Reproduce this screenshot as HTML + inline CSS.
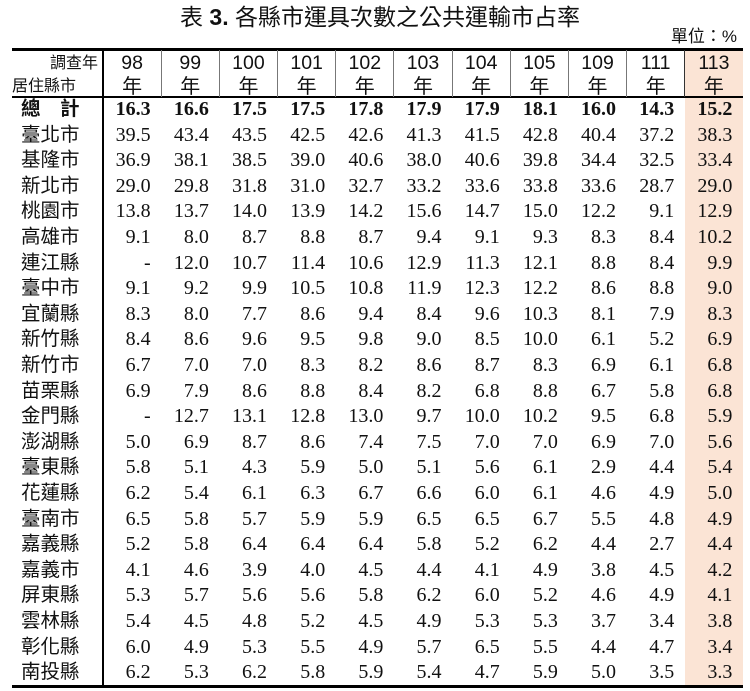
<!DOCTYPE html>
<html>
<head>
<meta charset="utf-8">
<style>
*{margin:0;padding:0;box-sizing:border-box}
html,body{width:750px;height:691px;background:#fff;overflow:hidden}
body{position:relative;color:#111;font-family:"Liberation Serif","Noto Sans CJK TC",serif}
.title{position:absolute;left:0;top:3px;width:760px;text-align:center;font-family:"Liberation Sans","Noto Sans CJK TC",sans-serif;font-size:23px;line-height:28px;white-space:nowrap}
.title b{font-weight:bold}
.unit{position:absolute;right:13px;top:25px;font-family:"Liberation Sans","Noto Sans CJK TC",sans-serif;font-size:17px;line-height:24px;white-space:nowrap}
.peach{position:absolute;left:685px;top:49px;width:58px;height:637px;background:#FBE4D5}
.hl{position:absolute;left:12px;width:731px;background:#000}
.vl{position:absolute;width:1px;background:#777;top:50px;height:47px}
.vmain{position:absolute;left:102px;width:2px;top:49px;height:637px;background:#000}
.hy{position:absolute;top:50px;height:26px;line-height:26px;text-align:center;font-family:"Liberation Sans",sans-serif;font-size:19.5px;width:58.18px}
.hn{position:absolute;top:76px;height:22px;line-height:22px;text-align:center;font-family:"Liberation Sans","Noto Sans CJK TC",sans-serif;font-size:20px;width:58.18px}
.h0a{position:absolute;left:12px;width:86px;top:51px;height:26px;line-height:26px;text-align:right;font-family:"Liberation Sans","Noto Sans CJK TC",sans-serif;font-size:16px}
.h0b{position:absolute;left:12px;top:76px;height:22px;line-height:22px;font-family:"Liberation Sans","Noto Sans CJK TC",sans-serif;font-size:16px}
.r{position:absolute;left:12px;width:731px;height:25.6px;line-height:25.6px;display:flex;white-space:nowrap}
.r .c0{width:91px;padding-left:9px;font-family:"Liberation Sans","Noto Sans CJK TC",sans-serif;font-size:19.5px}
.r .d{width:58.18px;text-align:right;padding-right:10.5px;font-family:"Liberation Serif",serif;font-size:20px}
.r.t .c0,.r.t .d{font-weight:bold}
</style>
</head>
<body>
<div class="title">表 <b>3.</b> 各縣市運具次數之公共運輸市占率</div>
<div class="unit">單位：%</div>
<div class="peach"></div>

<div class="hl" style="top:48px;height:2.5px"></div>
<div class="hl" style="top:96px;height:2px"></div>
<div class="hl" style="top:685px;height:2.5px"></div>
<div class="vmain"></div>

<div class="vl" style="left:161px"></div>
<div class="vl" style="left:219px"></div>
<div class="vl" style="left:277px"></div>
<div class="vl" style="left:335px"></div>
<div class="vl" style="left:393px"></div>
<div class="vl" style="left:452px"></div>
<div class="vl" style="left:510px"></div>
<div class="vl" style="left:568px"></div>
<div class="vl" style="left:626px"></div>
<div class="vl" style="left:684px;background:#333"></div>

<div class="h0a">調查年</div>
<div class="h0b">居住縣市</div>

<div class="hy" style="left:103px">98</div>
<div class="hy" style="left:161.18px">99</div>
<div class="hy" style="left:219.36px">100</div>
<div class="hy" style="left:277.54px">101</div>
<div class="hy" style="left:335.72px">102</div>
<div class="hy" style="left:393.9px">103</div>
<div class="hy" style="left:452.08px">104</div>
<div class="hy" style="left:510.26px">105</div>
<div class="hy" style="left:568.44px">109</div>
<div class="hy" style="left:626.62px">111</div>
<div class="hy" style="left:684.8px">113</div>

<div class="hn" style="left:103px">年</div>
<div class="hn" style="left:161.18px">年</div>
<div class="hn" style="left:219.36px">年</div>
<div class="hn" style="left:277.54px">年</div>
<div class="hn" style="left:335.72px">年</div>
<div class="hn" style="left:393.9px">年</div>
<div class="hn" style="left:452.08px">年</div>
<div class="hn" style="left:510.26px">年</div>
<div class="hn" style="left:568.44px">年</div>
<div class="hn" style="left:626.62px">年</div>
<div class="hn" style="left:684.8px">年</div>

<div class="r t" style="top:97px"><span class="c0">總　計</span><span class="d">16.3</span><span class="d">16.6</span><span class="d">17.5</span><span class="d">17.5</span><span class="d">17.8</span><span class="d">17.9</span><span class="d">17.9</span><span class="d">18.1</span><span class="d">16.0</span><span class="d">14.3</span><span class="d">15.2</span></div>
<div class="r" style="top:122.6px"><span class="c0">臺北市</span><span class="d">39.5</span><span class="d">43.4</span><span class="d">43.5</span><span class="d">42.5</span><span class="d">42.6</span><span class="d">41.3</span><span class="d">41.5</span><span class="d">42.8</span><span class="d">40.4</span><span class="d">37.2</span><span class="d">38.3</span></div>
<div class="r" style="top:148.2px"><span class="c0">基隆市</span><span class="d">36.9</span><span class="d">38.1</span><span class="d">38.5</span><span class="d">39.0</span><span class="d">40.6</span><span class="d">38.0</span><span class="d">40.6</span><span class="d">39.8</span><span class="d">34.4</span><span class="d">32.5</span><span class="d">33.4</span></div>
<div class="r" style="top:173.8px"><span class="c0">新北市</span><span class="d">29.0</span><span class="d">29.8</span><span class="d">31.8</span><span class="d">31.0</span><span class="d">32.7</span><span class="d">33.2</span><span class="d">33.6</span><span class="d">33.8</span><span class="d">33.6</span><span class="d">28.7</span><span class="d">29.0</span></div>
<div class="r" style="top:199.4px"><span class="c0">桃園市</span><span class="d">13.8</span><span class="d">13.7</span><span class="d">14.0</span><span class="d">13.9</span><span class="d">14.2</span><span class="d">15.6</span><span class="d">14.7</span><span class="d">15.0</span><span class="d">12.2</span><span class="d">9.1</span><span class="d">12.9</span></div>
<div class="r" style="top:225px"><span class="c0">高雄市</span><span class="d">9.1</span><span class="d">8.0</span><span class="d">8.7</span><span class="d">8.8</span><span class="d">8.7</span><span class="d">9.4</span><span class="d">9.1</span><span class="d">9.3</span><span class="d">8.3</span><span class="d">8.4</span><span class="d">10.2</span></div>
<div class="r" style="top:250.6px"><span class="c0">連江縣</span><span class="d">-</span><span class="d">12.0</span><span class="d">10.7</span><span class="d">11.4</span><span class="d">10.6</span><span class="d">12.9</span><span class="d">11.3</span><span class="d">12.1</span><span class="d">8.8</span><span class="d">8.4</span><span class="d">9.9</span></div>
<div class="r" style="top:276.2px"><span class="c0">臺中市</span><span class="d">9.1</span><span class="d">9.2</span><span class="d">9.9</span><span class="d">10.5</span><span class="d">10.8</span><span class="d">11.9</span><span class="d">12.3</span><span class="d">12.2</span><span class="d">8.6</span><span class="d">8.8</span><span class="d">9.0</span></div>
<div class="r" style="top:301.8px"><span class="c0">宜蘭縣</span><span class="d">8.3</span><span class="d">8.0</span><span class="d">7.7</span><span class="d">8.6</span><span class="d">9.4</span><span class="d">8.4</span><span class="d">9.6</span><span class="d">10.3</span><span class="d">8.1</span><span class="d">7.9</span><span class="d">8.3</span></div>
<div class="r" style="top:327.4px"><span class="c0">新竹縣</span><span class="d">8.4</span><span class="d">8.6</span><span class="d">9.6</span><span class="d">9.5</span><span class="d">9.8</span><span class="d">9.0</span><span class="d">8.5</span><span class="d">10.0</span><span class="d">6.1</span><span class="d">5.2</span><span class="d">6.9</span></div>
<div class="r" style="top:353px"><span class="c0">新竹市</span><span class="d">6.7</span><span class="d">7.0</span><span class="d">7.0</span><span class="d">8.3</span><span class="d">8.2</span><span class="d">8.6</span><span class="d">8.7</span><span class="d">8.3</span><span class="d">6.9</span><span class="d">6.1</span><span class="d">6.8</span></div>
<div class="r" style="top:378.6px"><span class="c0">苗栗縣</span><span class="d">6.9</span><span class="d">7.9</span><span class="d">8.6</span><span class="d">8.8</span><span class="d">8.4</span><span class="d">8.2</span><span class="d">6.8</span><span class="d">8.8</span><span class="d">6.7</span><span class="d">5.8</span><span class="d">6.8</span></div>
<div class="r" style="top:404.2px"><span class="c0">金門縣</span><span class="d">-</span><span class="d">12.7</span><span class="d">13.1</span><span class="d">12.8</span><span class="d">13.0</span><span class="d">9.7</span><span class="d">10.0</span><span class="d">10.2</span><span class="d">9.5</span><span class="d">6.8</span><span class="d">5.9</span></div>
<div class="r" style="top:429.8px"><span class="c0">澎湖縣</span><span class="d">5.0</span><span class="d">6.9</span><span class="d">8.7</span><span class="d">8.6</span><span class="d">7.4</span><span class="d">7.5</span><span class="d">7.0</span><span class="d">7.0</span><span class="d">6.9</span><span class="d">7.0</span><span class="d">5.6</span></div>
<div class="r" style="top:455.4px"><span class="c0">臺東縣</span><span class="d">5.8</span><span class="d">5.1</span><span class="d">4.3</span><span class="d">5.9</span><span class="d">5.0</span><span class="d">5.1</span><span class="d">5.6</span><span class="d">6.1</span><span class="d">2.9</span><span class="d">4.4</span><span class="d">5.4</span></div>
<div class="r" style="top:481px"><span class="c0">花蓮縣</span><span class="d">6.2</span><span class="d">5.4</span><span class="d">6.1</span><span class="d">6.3</span><span class="d">6.7</span><span class="d">6.6</span><span class="d">6.0</span><span class="d">6.1</span><span class="d">4.6</span><span class="d">4.9</span><span class="d">5.0</span></div>
<div class="r" style="top:506.6px"><span class="c0">臺南市</span><span class="d">6.5</span><span class="d">5.8</span><span class="d">5.7</span><span class="d">5.9</span><span class="d">5.9</span><span class="d">6.5</span><span class="d">6.5</span><span class="d">6.7</span><span class="d">5.5</span><span class="d">4.8</span><span class="d">4.9</span></div>
<div class="r" style="top:532.2px"><span class="c0">嘉義縣</span><span class="d">5.2</span><span class="d">5.8</span><span class="d">6.4</span><span class="d">6.4</span><span class="d">6.4</span><span class="d">5.8</span><span class="d">5.2</span><span class="d">6.2</span><span class="d">4.4</span><span class="d">2.7</span><span class="d">4.4</span></div>
<div class="r" style="top:557.8px"><span class="c0">嘉義市</span><span class="d">4.1</span><span class="d">4.6</span><span class="d">3.9</span><span class="d">4.0</span><span class="d">4.5</span><span class="d">4.4</span><span class="d">4.1</span><span class="d">4.9</span><span class="d">3.8</span><span class="d">4.5</span><span class="d">4.2</span></div>
<div class="r" style="top:583.4px"><span class="c0">屏東縣</span><span class="d">5.3</span><span class="d">5.7</span><span class="d">5.6</span><span class="d">5.6</span><span class="d">5.8</span><span class="d">6.2</span><span class="d">6.0</span><span class="d">5.2</span><span class="d">4.6</span><span class="d">4.9</span><span class="d">4.1</span></div>
<div class="r" style="top:609px"><span class="c0">雲林縣</span><span class="d">5.4</span><span class="d">4.5</span><span class="d">4.8</span><span class="d">5.2</span><span class="d">4.5</span><span class="d">4.9</span><span class="d">5.3</span><span class="d">5.3</span><span class="d">3.7</span><span class="d">3.4</span><span class="d">3.8</span></div>
<div class="r" style="top:634.6px"><span class="c0">彰化縣</span><span class="d">6.0</span><span class="d">4.9</span><span class="d">5.3</span><span class="d">5.5</span><span class="d">4.9</span><span class="d">5.7</span><span class="d">6.5</span><span class="d">5.5</span><span class="d">4.4</span><span class="d">4.7</span><span class="d">3.4</span></div>
<div class="r" style="top:660.2px"><span class="c0">南投縣</span><span class="d">6.2</span><span class="d">5.3</span><span class="d">6.2</span><span class="d">5.8</span><span class="d">5.9</span><span class="d">5.4</span><span class="d">4.7</span><span class="d">5.9</span><span class="d">5.0</span><span class="d">3.5</span><span class="d">3.3</span></div>
</body>
</html>
